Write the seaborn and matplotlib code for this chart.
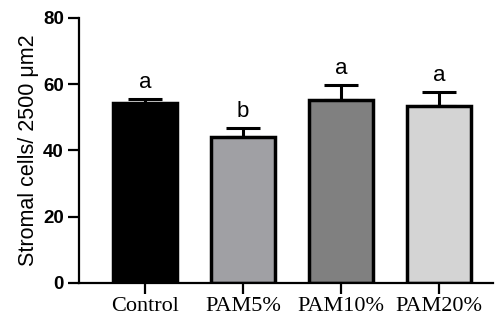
import numpy as np
import pandas as pd
import matplotlib
matplotlib.use("Agg")
import matplotlib.pyplot as plt
import seaborn as sns

groups = ["Control", "PAM5%", "PAM10%", "PAM20%"]
means = [54.3, 44.1, 55.3, 53.5]
errors = [1.3, 2.7, 4.5, 4.2]
letters = ["a", "b", "a", "a"]
colors = ["#000000", "#a0a0a4", "#808080", "#d4d4d4"]

df = pd.DataFrame({"group": groups, "value": means})

sns.set_style("ticks")
plt.rcParams["font.family"] = ["Liberation Sans", "DejaVu Sans"]
plt.rcParams["text.color"] = "black"
plt.rcParams["axes.labelcolor"] = "black"
plt.rcParams["xtick.color"] = "black"
plt.rcParams["ytick.color"] = "black"

fig = plt.figure(figsize=(4.95, 3.2), dpi=100)
ax = fig.add_axes([0.16, 0.116, 0.836, 0.828])

sns.barplot(data=df, x="group", y="value", hue="group", palette=colors,
            width=0.65, edgecolor="black", linewidth=2.5, legend=False, ax=ax, zorder=2)

x = np.arange(len(groups))
ax.errorbar(x, means, yerr=[np.zeros(len(errors)), errors], fmt="none",
            ecolor="black", elinewidth=2.2, capsize=12, capthick=2.2, zorder=1)

for xi, m, e, lab in zip(x, means, errors, letters):
    ax.annotate(lab, (xi, m + e), xytext=(0, 4), textcoords="offset points",
                ha="center", va="bottom", fontsize=16)

ax.set_ylim(0, 80)
ax.set_yticks([0, 20, 40, 60, 80])
ax.set_xlim(-0.67, 3.55)
ax.set_xlabel("")
ax.set_ylabel("Stromal cells/ 2500 μm2", fontsize=15.5, labelpad=3)

for t in ax.get_yticklabels():
    t.set_fontweight("bold")
    t.set_fontsize(13.5)
for t in ax.get_xticklabels():
    t.set_family(["Liberation Serif"])
    t.set_fontsize(16)

ax.tick_params(axis="both", width=1.6, length=8, color="black", labelcolor="black", pad=2)
ax.tick_params(axis="y", pad=3)
for s in ["left", "bottom"]:
    ax.spines[s].set_linewidth(1.6)
    ax.spines[s].set_color("black")
sns.despine(ax=ax)

plt.savefig("out.png", dpi=100)
plt.close()
